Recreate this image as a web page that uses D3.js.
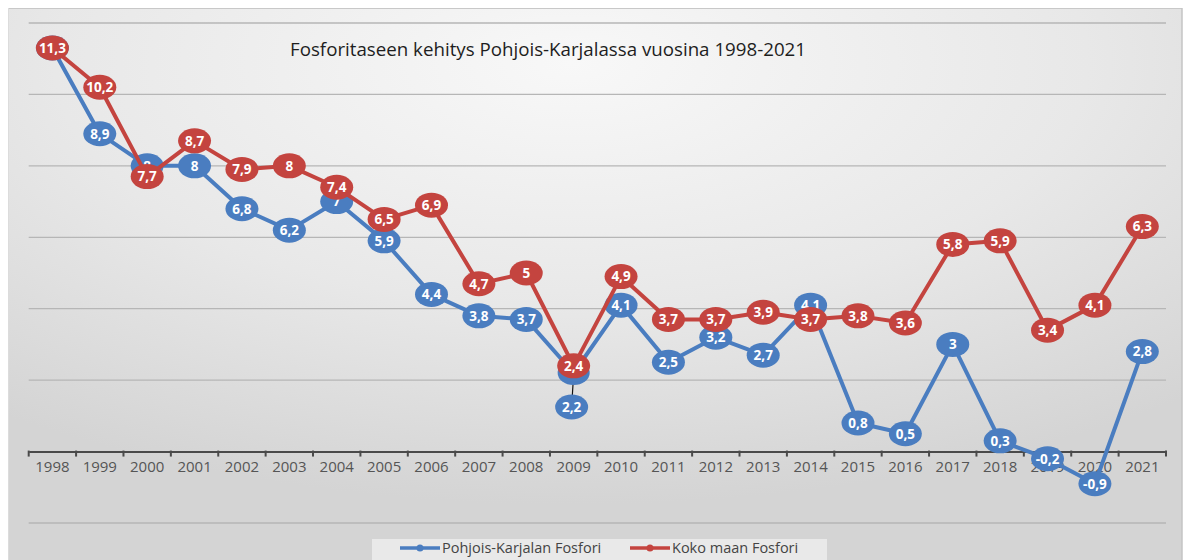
<!DOCTYPE html>
<html>
<head>
<meta charset="utf-8">
<script src="https://cdn.jsdelivr.net/npm/d3@7"></script>
<style>
  html, body { margin: 0; padding: 0; background: #ffffff; }
  svg { display: block; }
</style>
</head>
<body>
<script>
// Fosforitase (kg/ha), Pohjois-Karjala vs. koko maa
const years = ["1998","1999","2000","2001","2002","2003","2004","2005","2006","2007","2008","2009",
               "2010","2011","2012","2013","2014","2015","2016","2017","2018","2019","2020","2021"];
const pohjoisKarjala = [11.3, 8.9, 8, 8, 6.8, 6.2, 7, 5.9, 4.4, 3.8, 3.7, 2.2,
                        4.1, 2.5, 3.2, 2.7, 4.1, 0.8, 0.5, 3, 0.3, -0.2, -0.9, 2.8];
const kokoMaa = [11.3, 10.2, 7.7, 8.7, 7.9, 8, 7.4, 6.5, 6.9, 4.7, 5, 2.4,
                 4.9, 3.7, 3.7, 3.9, 3.7, 3.8, 3.6, 5.8, 5.9, 3.4, 4.1, 6.3];
const gridValues = [-2, 0, 2, 4, 6, 8, 10, 12];
const seriesNames = ["Pohjois-Karjalan Fosfori", "Koko maan Fosfori"];
const titleText = "Fosforitaseen kehitys Pohjois-Karjalassa vuosina 1998-2021";

const W = 1192, H = 560;
const blue = "#4a7dc0", red = "#c4443f";
const fmt = v => String(v).replace(".", ",");

const svg = d3.select("body").append("svg").attr("width", W).attr("height", H);

// background panel
const defs = svg.append("defs");
const grad = defs.append("radialGradient").attr("id", "bg")
  .attr("cx", "48%").attr("cy", "10%").attr("r", "80%");
grad.append("stop").attr("offset", "0%").attr("stop-color", "#f8f8f8");
grad.append("stop").attr("offset", "55%").attr("stop-color", "#e8e8e8");
grad.append("stop").attr("offset", "100%").attr("stop-color", "#d4d4d4");

svg.append("rect").attr("x", 8).attr("y", 8).attr("width", 1174).attr("height", H - 8)
  .attr("fill", "url(#bg)");
svg.append("line").attr("x1", 8).attr("x2", 1182).attr("y1", 8.5).attr("y2", 8.5)
  .attr("stroke", "#c8c8c8").attr("stroke-width", 1);
svg.append("line").attr("x1", 1182).attr("x2", 1182).attr("y1", 8).attr("y2", H)
  .attr("stroke", "#c4c4c4").attr("stroke-width", 1.5);
svg.append("line").attr("x1", 8.5).attr("x2", 8.5).attr("y1", 8).attr("y2", H)
  .attr("stroke", "#dcdcdc").attr("stroke-width", 1);

// scales
const x = d3.scaleBand().domain(years).range([28.7, 1166]).padding(0);
const y = d3.scaleLinear().domain([-2, 12]).range([523, 23]);
const cx = d => x(d) + x.bandwidth() / 2;

// gridlines
svg.append("g").selectAll("line").data(gridValues.filter(v => v !== 0)).join("line")
  .attr("x1", 28.7).attr("x2", 1166)
  .attr("y1", d => y(d)).attr("y2", d => y(d))
  .attr("stroke", "#b6b6b6").attr("stroke-width", 1.3);

// category axis at zero with boundary ticks
const axisG = svg.append("g").attr("transform", `translate(0,${y(0)})`);
axisG.call(d3.axisBottom(x).tickSize(0).tickPadding(10))
  .call(g => g.select(".domain").attr("stroke", "#4a4a4a").attr("stroke-width", 2))
  .call(g => g.selectAll("text").attr("fill", "#555").attr("font-size", 15)
    .attr("font-family", "'Open Sans', sans-serif"));
const bounds = years.map(d => x(d)).concat([x(years[years.length - 1]) + x.bandwidth()]);
axisG.append("g").selectAll("line").data(bounds).join("line")
  .attr("x1", d => d).attr("x2", d => d).attr("y1", -1).attr("y2", 5)
  .attr("stroke", "#4a4a4a").attr("stroke-width", 2);

// title
svg.append("text").attr("x", 548).attr("y", 56).attr("text-anchor", "middle")
  .attr("font-family", "'Open Sans', sans-serif").attr("font-size", 18)
  .attr("fill", "#1e1e1e").attr("textLength", 516).attr("lengthAdjust", "spacingAndGlyphs")
  .text(titleText);

// label placement adjustments where bubbles would collide
const labelShift = { "Pohjois-Karjalan Fosfori": { "2009": [-2, 34] } };

function drawSeries(name, values, color) {
  const pts = years.map((yr, i) => ({ yr, v: values[i] }));
  const line = d3.line().x(d => cx(d.yr)).y(d => y(d.v));
  const g = svg.append("g");
  g.append("path").datum(pts).attr("d", line).attr("fill", "none")
    .attr("stroke", color).attr("stroke-width", 4).attr("stroke-linejoin", "round");
  const shifts = labelShift[name] || {};
  // leader lines and point markers for moved labels
  g.selectAll("line.leader").data(pts.filter(d => shifts[d.yr])).join("line")
    .attr("class", "leader")
    .attr("x1", d => cx(d.yr)).attr("y1", d => y(d.v))
    .attr("x2", d => cx(d.yr) + shifts[d.yr][0]).attr("y2", d => y(d.v) + shifts[d.yr][1])
    .attr("stroke", "#111").attr("stroke-width", 1.2);
  g.selectAll("ellipse.pt").data(pts.filter(d => shifts[d.yr])).join("ellipse")
    .attr("class", "pt").attr("cx", d => cx(d.yr)).attr("cy", d => y(d.v))
    .attr("rx", 16).attr("ry", 12).attr("fill", color);
  const lbl = g.selectAll("g.lbl").data(pts).join("g").attr("class", "lbl")
    .attr("transform", d => {
      const s = shifts[d.yr] || [0, 0];
      return `translate(${cx(d.yr) + s[0]},${y(d.v) + s[1]})`;
    });
  lbl.append("ellipse").attr("rx", 16.5).attr("ry", 12.5).attr("fill", color);
  lbl.append("text").attr("text-anchor", "middle").attr("dy", "0.36em")
    .attr("font-family", "'Open Sans', sans-serif").attr("font-weight", 700)
    .attr("font-size", 13.5).attr("fill", "#ffffff")
    .text(d => fmt(d.v));
}

drawSeries(seriesNames[0], pohjoisKarjala, blue);
drawSeries(seriesNames[1], kokoMaa, red);

// legend
const leg = svg.append("g");
leg.append("rect").attr("x", 372).attr("y", 539).attr("width", 455).attr("height", 24)
  .attr("fill", "#e9e9e9");
const items = [
  { name: seriesNames[0], color: blue, x0: 400 },
  { name: seriesNames[1], color: red, x0: 630 }
];
items.forEach(it => {
  leg.append("line").attr("x1", it.x0).attr("x2", it.x0 + 40).attr("y1", 548).attr("y2", 548)
    .attr("stroke", it.color).attr("stroke-width", 3.5);
  leg.append("circle").attr("cx", it.x0 + 20).attr("cy", 548).attr("r", 3.5).attr("fill", it.color);
  leg.append("text").attr("x", it.x0 + 42).attr("y", 553)
    .attr("font-family", "'Open Sans', sans-serif").attr("font-size", 14.5)
    .attr("fill", "#444").text(it.name);
});
</script>
</body>
</html>
